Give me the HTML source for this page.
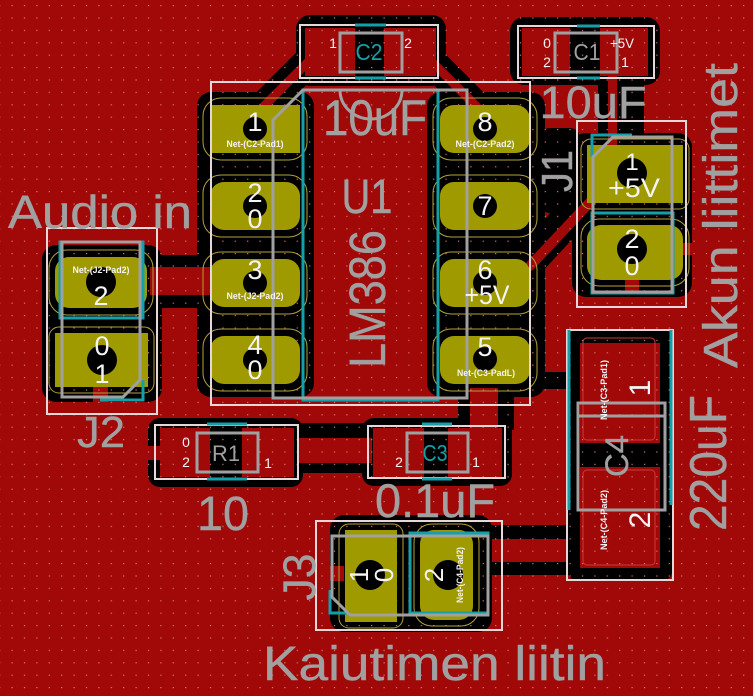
<!DOCTYPE html>
<html><head><meta charset="utf-8"><style>
html,body{margin:0;padding:0;background:#a10808;}
svg{display:block}
text{font-family:"Liberation Sans",sans-serif}
.g{fill:#a0a0a0;stroke:#a0a0a0;stroke-width:0.4;text-anchor:middle}
.w{fill:#f4f4f4;text-anchor:middle}
.n{fill:#f4f4f4;text-anchor:middle;font-size:9.5px;font-weight:bold}
</style></head><body>
<svg width="753" height="696" viewBox="0 0 753 696" xmlns="http://www.w3.org/2000/svg">
<defs>
<pattern id="gd" x="11.5" y="5" width="12.4" height="12.4" patternUnits="userSpaceOnUse">
<rect x="0" y="0" width="1.2" height="1.2" fill="#d87878"/>
</pattern>
</defs>
<rect width="753" height="696" fill="#a10808"/>

<!-- black clearance -->
<g stroke="#000" stroke-linecap="round">
<line x1="318" y1="52" x2="262" y2="108" stroke-width="30"/>
<line x1="422" y1="52" x2="478" y2="108" stroke-width="30"/>
<line x1="590" y1="195" x2="528" y2="262" stroke-width="34"/>
</g>
<g fill="#000">
<rect x="197" y="92" width="117" height="305" rx="14"/>
<rect x="427" y="92" width="118" height="305" rx="14"/>
<rect x="296" y="15" width="150" height="71" rx="14"/>
<rect x="510" y="17" width="150" height="68" rx="14"/>
<rect x="598" y="75" width="46" height="70"/>
<rect x="572" y="133" width="120" height="164" rx="14"/>
<rect x="540" y="128" width="40" height="85" rx="10"/>
<rect x="42" y="245" width="120" height="157" rx="14"/>
<rect x="150" y="255" width="62" height="53"/>
<rect x="148" y="418" width="155" height="69" rx="12"/>
<rect x="297" y="423" width="75" height="50"/>
<rect x="362" y="418" width="150" height="68" rx="12"/>
<rect x="458" y="388" width="56" height="42"/>
<rect x="505" y="372" width="75" height="17" rx="6"/>
<rect x="568" y="330" width="104" height="250" rx="8"/>
<rect x="480" y="525" width="92" height="14"/>
<rect x="480" y="562" width="92" height="13"/>
<rect x="330" y="515" width="162" height="117" rx="14"/>
</g>

<!-- red copper over black -->
<g stroke="#a10808" stroke-linecap="round">
<line x1="316" y1="54" x2="262" y2="108" stroke-width="9"/>
<line x1="424" y1="54" x2="478" y2="108" stroke-width="9"/>
<line x1="592" y1="200" x2="530" y2="266" stroke-width="10"/>
</g>
<g fill="#a10808">
<rect x="305" y="28" width="50" height="48"/>
<rect x="384" y="28" width="52" height="48"/>
<rect x="522" y="28" width="48" height="48"/>
<rect x="600" y="28" width="48" height="48"/>
<rect x="608" y="76" width="9" height="70"/>
<rect x="150" y="267" width="62" height="28"/>
<rect x="160" y="428" width="50" height="49"/>
<rect x="242" y="428" width="52" height="49"/>
<rect x="146" y="446" width="16" height="14"/>
<rect x="297" y="438" width="75" height="25"/>
<rect x="373" y="428" width="51" height="49"/>
<rect x="448" y="428" width="54" height="49"/>
<rect x="470" y="388" width="28" height="42"/>
<rect x="580" y="343" width="80" height="100"/>
<rect x="580" y="467" width="80" height="101"/>
<rect x="328" y="566" width="16" height="15"/>
<rect x="93" y="387" width="15" height="15"/>
<rect x="625" y="278" width="14" height="15"/>
<rect x="677" y="243" width="15" height="12"/>
</g>
<g fill="none" stroke="#c83c3c" stroke-width="1">
<rect x="583" y="338" width="72" height="102" rx="4"/>
<rect x="583" y="470" width="72" height="95" rx="4"/>
</g>

<!-- grid -->
<rect width="753" height="696" fill="url(#gd)"/>

<!-- pad clearance outlines -->
<g fill="none" stroke="#b4a23a" stroke-width="1">
<rect x="203" y="98" width="104" height="62" rx="18"/>
<rect x="203" y="175" width="104" height="62" rx="18"/>
<rect x="203" y="252" width="104" height="62" rx="18"/>
<rect x="203" y="329" width="104" height="62" rx="18"/>
<rect x="433" y="98" width="104" height="62" rx="18"/>
<rect x="433" y="175" width="104" height="62" rx="18"/>
<rect x="433" y="252" width="104" height="62" rx="18"/>
<rect x="433" y="329" width="104" height="62" rx="18"/>
<rect x="49" y="250" width="104" height="65" rx="18"/>
<rect x="49" y="327" width="105" height="66" rx="10"/>
<rect x="581" y="139" width="108" height="70" rx="10"/>
<rect x="581" y="219" width="108" height="67" rx="18"/>
<rect x="339" y="524" width="64" height="104" rx="10"/>
<rect x="414" y="524" width="65" height="102" rx="18"/>
</g>

<!-- pads -->
<g fill="#9f9a00">
<rect x="210" y="105" width="90" height="48"/>
<rect x="210" y="182" width="90" height="48" rx="14"/>
<rect x="210" y="259" width="90" height="48" rx="14"/>
<rect x="210" y="336" width="90" height="48" rx="14"/>
<rect x="440" y="105" width="90" height="48" rx="14"/>
<rect x="440" y="182" width="90" height="48" rx="14"/>
<rect x="440" y="259" width="90" height="48" rx="14"/>
<rect x="440" y="336" width="90" height="48" rx="14"/>
<rect x="55" y="257" width="92" height="51" rx="14"/>
<rect x="55" y="333" width="93" height="54"/>
<rect x="587" y="145" width="96" height="58"/>
<rect x="587" y="225" width="96" height="55" rx="14"/>
<rect x="345" y="530" width="52" height="92"/>
<rect x="420" y="530" width="53" height="90" rx="14"/>
</g>
<!-- holes -->
<g fill="#000">
<circle cx="255" cy="129" r="12"/><circle cx="255" cy="206" r="12"/>
<circle cx="255" cy="283" r="12"/><circle cx="255" cy="360" r="12"/>
<circle cx="485" cy="129" r="12"/><circle cx="485" cy="206" r="12"/>
<circle cx="485" cy="283" r="12"/><circle cx="485" cy="359" r="12"/>
<circle cx="101" cy="282" r="15"/><circle cx="102" cy="360" r="15"/>
<circle cx="632" cy="173" r="15"/><circle cx="632" cy="249" r="15"/>
<circle cx="370" cy="575" r="15"/><circle cx="448" cy="575" r="15"/>
</g>

<!-- white courtyard -->
<g fill="none" stroke="#e6d8d8" stroke-width="2">
<rect x="300" y="25" width="138" height="53"/>
<rect x="518" y="26" width="136" height="52"/>
<rect x="211" y="82" width="319" height="323"/>
<rect x="577" y="121" width="109" height="186"/>
<rect x="47" y="228" width="110" height="186"/>
<rect x="155" y="425" width="143" height="54"/>
<rect x="368" y="426" width="137" height="52"/>
<rect x="567" y="330" width="106" height="250"/>
<rect x="316" y="521" width="186" height="109"/>
</g>

<!-- cyan -->
<g fill="none" stroke="#14a0a8" stroke-width="3">
<line x1="355" y1="25" x2="386" y2="25"/><line x1="355" y1="78" x2="386" y2="78"/>
<line x1="577" y1="26" x2="600" y2="26"/><line x1="577" y1="78" x2="600" y2="78"/>
<line x1="207" y1="424" x2="247" y2="424"/><line x1="207" y1="479" x2="247" y2="479"/>
<line x1="422" y1="424" x2="452" y2="424"/><line x1="422" y1="479" x2="452" y2="479"/>
<rect x="303" y="90" width="135" height="310"/>
<rect x="60" y="242" width="83" height="76"/>
<polyline points="100,400 143,400 143,380"/>
<rect x="592" y="213" width="81" height="80"/>
<polyline points="632,135 592,135 592,157"/>
<rect x="410" y="533" width="78" height="80"/>
<polyline points="330,590 330,613 350,613"/>
<line x1="569" y1="330" x2="569" y2="510"/>
<line x1="671" y1="330" x2="671" y2="505"/>
</g>

<!-- gray silk -->
<g fill="none" stroke="#a0a0a0" stroke-width="3">
<polygon points="273,120 303,90 467,90 467,398 273,398"/>
<path d="M340,90 A31,29 0 0 0 402,90"/>
<rect x="340" y="33" width="62" height="39"/>
<rect x="555" y="33" width="62" height="39"/>
<rect x="197" y="433" width="61" height="39"/>
<rect x="407" y="433" width="61" height="39"/>
<rect x="578" y="403" width="87" height="107"/>
<line x1="578" y1="416" x2="665" y2="416"/>
<polygon points="613,137 672,137 672,292 593,292 593,157"/>
<polygon points="62,242 140,242 140,380 123,397 62,397"/>
<polygon points="332,536 488,536 488,615 350,615 332,597"/>
</g>

<!-- big gray text -->
<text class="g" x="100" y="228" font-size="46" textLength="184" lengthAdjust="spacingAndGlyphs">Audio in</text>
<text class="g" x="101" y="447" font-size="44" textLength="48" lengthAdjust="spacingAndGlyphs">J2</text>
<text class="g" x="367" y="213" font-size="48" textLength="51" lengthAdjust="spacingAndGlyphs">U1</text>
<text class="g" x="375" y="135" font-size="50" textLength="104" lengthAdjust="spacingAndGlyphs">10uF</text>
<text class="g" x="593" y="118" font-size="45" textLength="107" lengthAdjust="spacingAndGlyphs">10uF</text>
<text class="g" x="223" y="530" font-size="48" textLength="52" lengthAdjust="spacingAndGlyphs">10</text>
<text class="g" x="435" y="517" font-size="47" textLength="120" lengthAdjust="spacingAndGlyphs">0.1uF</text>
<text class="g" x="434.5" y="680" font-size="48" textLength="343" lengthAdjust="spacingAndGlyphs">Kaiutimen liitin</text>
<text class="g" transform="translate(385,299) rotate(-90)" font-size="51" textLength="138" lengthAdjust="spacingAndGlyphs">LM386</text>
<text class="g" transform="translate(737,215.5) rotate(-90)" font-size="48" textLength="305" lengthAdjust="spacingAndGlyphs">Akun liittimet</text>
<text class="g" transform="translate(726,463) rotate(-90)" font-size="52" textLength="136" lengthAdjust="spacingAndGlyphs">220uF</text>
<text class="g" transform="translate(572,171) rotate(-90)" font-size="44" textLength="42" lengthAdjust="spacingAndGlyphs">J1</text>
<text class="g" transform="translate(315,577) rotate(-90)" font-size="45" textLength="47" lengthAdjust="spacingAndGlyphs">J3</text>
<text class="g" transform="translate(628,456) rotate(-90)" font-size="32" textLength="42" lengthAdjust="spacingAndGlyphs">C4</text>
<text class="g" x="587" y="60" font-size="23" textLength="27" lengthAdjust="spacingAndGlyphs" style="stroke-width:0">C1</text>
<text class="g" x="226" y="461" font-size="22" textLength="28" lengthAdjust="spacingAndGlyphs" style="stroke-width:0">R1</text>
<text x="369" y="60" font-size="23" textLength="27" lengthAdjust="spacingAndGlyphs" fill="#14a0a8" text-anchor="middle">C2</text>
<text x="435" y="461" font-size="23" textLength="25" lengthAdjust="spacingAndGlyphs" fill="#14a0a8" text-anchor="middle">C3</text>

<!-- white pad labels -->
<g class="w" font-size="27">
<text class="w" x="255" y="131">1</text>
<text class="w" x="255" y="202">2</text>
<text class="w" x="255" y="228">0</text>
<text class="w" x="255" y="279">3</text>
<text class="w" x="255" y="354">4</text>
<text class="w" x="255" y="379">0</text>
<text class="w" x="485" y="131">8</text>
<text class="w" x="485" y="215">7</text>
<text class="w" x="485" y="279">6</text>
<text class="w" x="487" y="304" textLength="45" lengthAdjust="spacingAndGlyphs">+5V</text>
<text class="w" x="485" y="356">5</text>
<text class="w" x="101" y="305">2</text>
<text class="w" x="102" y="355">0</text>
<text class="w" x="102" y="383">1</text>
<text class="w" x="632" y="170" font-size="24">1</text>
<text class="w" x="634" y="197" textLength="52" lengthAdjust="spacingAndGlyphs">+5V</text>
<text class="w" x="632" y="248">2</text>
<text class="w" x="632" y="275">0</text>
<text class="w" transform="translate(368,575) rotate(-90)" font-size="26">1</text>
<text class="w" transform="translate(393,575) rotate(-90)" font-size="26">0</text>
<text class="w" transform="translate(443,575) rotate(-90)" font-size="26">2</text>
<text class="w" transform="translate(650,388) rotate(-90)" font-size="30">1</text>
<text class="w" transform="translate(650,520) rotate(-90)" font-size="30">2</text>
</g>
<g>
<text class="n" x="255" y="147" textLength="57" lengthAdjust="spacingAndGlyphs">Net-(C2-Pad1)</text>
<text class="n" x="255" y="299" textLength="57" lengthAdjust="spacingAndGlyphs">Net-(J2-Pad2)</text>
<text class="n" x="485" y="147" textLength="59" lengthAdjust="spacingAndGlyphs">Net-(C2-Pad2)</text>
<text class="n" x="486" y="376" textLength="58" lengthAdjust="spacingAndGlyphs">Net-(C3-PadL)</text>
<text class="n" x="101" y="273" textLength="57" lengthAdjust="spacingAndGlyphs">Net-(J2-Pad2)</text>
<text class="n" transform="translate(463,575) rotate(-90)" textLength="56" lengthAdjust="spacingAndGlyphs">Net-(C4-Pad2)</text>
<text class="n" transform="translate(607,390) rotate(-90)" textLength="60" lengthAdjust="spacingAndGlyphs">Net-(C3-Pad1)</text>
<text class="n" transform="translate(607,520) rotate(-90)" textLength="60" lengthAdjust="spacingAndGlyphs">Net-(C4-Pad2)</text>
</g>
<g class="w" font-size="14">
<text class="w" x="333" y="48">1</text>
<text class="w" x="408" y="48">2</text>
<text class="w" x="547" y="48">0</text>
<text class="w" x="547" y="67">2</text>
<text class="w" x="622" y="48" textLength="24" lengthAdjust="spacingAndGlyphs">+5V</text>
<text class="w" x="625" y="67">1</text>
<text class="w" x="186" y="447">0</text>
<text class="w" x="186" y="467">2</text>
<text class="w" x="268" y="468">1</text>
<text class="w" x="399" y="467">2</text>
<text class="w" x="476" y="467">1</text>
</g>
</svg>
</body></html>
